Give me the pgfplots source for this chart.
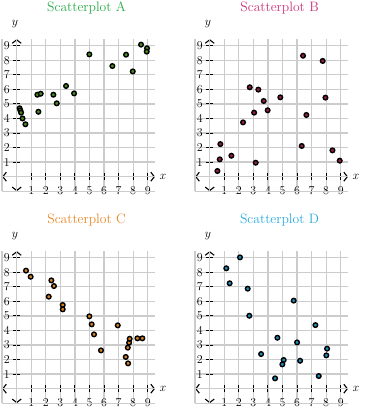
\documentclass[border=0pt]{standalone}
\usepackage{pgfplots}
\pgfplotsset{compat=1.18}
\usetikzlibrary{arrows.meta}
\definecolor{tA}{RGB}{40,170,70}
\definecolor{fA}{RGB}{70,140,30}
\definecolor{tB}{RGB}{200,50,120}
\definecolor{fB}{RGB}{150,30,70}
\definecolor{tC}{RGB}{232,135,40}
\definecolor{fC}{RGB}{215,130,30}
\definecolor{tD}{RGB}{40,170,220}
\definecolor{fD}{RGB}{30,140,185}
\pgfplotsset{myax/.style={
  x=14.56pt, y=14.56pt, xmin=-1, xmax=9.5, ymin=-1, ymax=9.45,
  axis lines=middle,
  axis line style={black, line width=1.1pt, {Straight Barb[length=3.5pt,width=9pt]}-{Straight Barb[length=3.5pt,width=9pt]}},
  grid=major, grid style={black!20, line width=1.3pt},
  xtick={1,...,9}, ytick={1,...,9},
  extra x ticks={-1,0}, extra y ticks={-1,0},
  extra x tick labels={}, extra y tick labels={},
  extra tick style={major tick length=0pt, grid=major},
  tick align=center, major tick length=7pt,
  tick style={black, line width=0.9pt},
  ticklabel style={font=\fontsize{12.5}{14}\selectfont},
  xticklabel style={yshift=-3pt},
  yticklabel style={xshift=0pt},
  clip=false,
}}
\begin{document}
\begin{tikzpicture}
\path[use as bounding box] (0,0) rectangle (366pt,-412pt);
% A
\begin{axis}[myax, at={(2.14pt,-191.26pt)}, anchor=south west]
\addplot[only marks, mark=*, mark size=2.3pt, mark options={fill=fA, draw=black, line width=1.4pt}] coordinates {
(0.2,4.7) (0.25,4.55) (0.3,4.4) (0.4,4.0) (0.6,3.6)
(1.42,5.63) (1.65,5.7) (1.49,4.46) (2.52,5.63) (2.75,5.04) (3.39,6.23) (3.94,5.72)
(4.99,8.40) (6.57,7.60) (7.51,8.38) (7.97,7.23) (8.54,9.07) (8.95,8.82) (8.93,8.59)};
\node[text=tA, font=\fontsize{13.6}{16}\selectfont] at (axis cs:4.8,11.6) {Scatterplot A};
\node[font=\fontsize{13}{15}\selectfont] at (axis cs:-0.12,10.49) {$y$};
\node[font=\fontsize{13}{15}\selectfont] at (axis cs:10.05,0) {$x$};
\end{axis}
% B
\begin{axis}[myax, at={(195.14pt,-191.26pt)}, anchor=south west]
\addplot[only marks, mark=*, mark size=2.3pt, mark options={fill=fB, draw=black, line width=1.4pt}] coordinates {
(0.53,0.39) (0.69,1.19) (0.73,2.24) (1.49,1.44) (2.29,3.73) (2.75,6.14) (3.05,4.40)
(3.16,0.96) (3.34,5.98) (3.71,5.20) (3.98,4.56) (4.85,5.45) (6.32,2.11) (6.41,8.31)
(6.64,4.24) (7.76,7.95) (7.95,5.43) (8.43,1.81) (8.93,1.10)};
\node[text=tB, font=\fontsize{13.6}{16}\selectfont] at (axis cs:4.8,11.6) {Scatterplot B};
\node[font=\fontsize{13}{15}\selectfont] at (axis cs:-0.12,10.49) {$y$};
\node[font=\fontsize{13}{15}\selectfont] at (axis cs:10.05,0) {$x$};
\end{axis}
% C
\begin{axis}[myax, at={(2.14pt,-403.26pt)}, anchor=south west]
\addplot[only marks, mark=*, mark size=2.3pt, mark options={fill=fC, draw=black, line width=1.4pt}] coordinates {
(0.64,8.11) (0.96,7.69) (2.38,7.44) (2.56,7.05) (2.20,6.32) (3.16,5.75) (3.16,5.45)
(4.99,4.97) (5.15,4.42) (5.31,3.73) (5.79,2.63) (6.94,4.35) (7.49,2.18) (7.65,1.74)
(7.63,2.82) (7.72,3.16) (7.76,3.43) (8.29,3.46) (8.63,3.46)};
\node[text=tC, font=\fontsize{13.6}{16}\selectfont] at (axis cs:4.8,11.6) {Scatterplot C};
\node[font=\fontsize{13}{15}\selectfont] at (axis cs:-0.12,10.49) {$y$};
\node[font=\fontsize{13}{15}\selectfont] at (axis cs:10.05,0) {$x$};
\end{axis}
% D
\begin{axis}[myax, at={(195.14pt,-403.26pt)}, anchor=south west]
\addplot[only marks, mark=*, mark size=2.3pt, mark options={fill=fD, draw=black, line width=1.4pt}] coordinates {
(1.14,8.27) (1.37,7.24) (2.08,9.02) (2.61,6.87) (2.72,5.01) (3.53,2.38) (4.49,0.71)
(4.65,3.50) (4.99,1.67) (5.08,1.97) (5.77,6.05) (6.00,3.18) (6.21,1.92) (7.26,4.37)
(7.49,0.87) (8.01,2.29) (8.06,2.75)};
\node[text=tD, font=\fontsize{13.6}{16}\selectfont] at (axis cs:4.8,11.6) {Scatterplot D};
\node[font=\fontsize{13}{15}\selectfont] at (axis cs:-0.12,10.49) {$y$};
\node[font=\fontsize{13}{15}\selectfont] at (axis cs:10.05,0) {$x$};
\end{axis}
\end{tikzpicture}
\end{document}
